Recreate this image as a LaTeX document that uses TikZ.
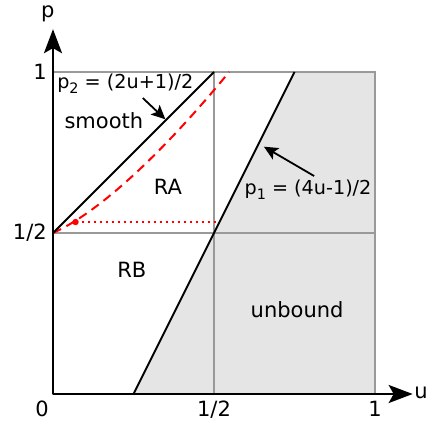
\documentclass[tikz,border=0pt]{standalone}
\usepackage{fontspec}
\setmainfont{DejaVu Sans}
\usepackage{xcolor}
\usepackage{tikz}
\usetikzlibrary{calc, arrows.meta, positioning}

\newcommand{\lowsub}[1]{\raisebox{-0.45ex}{\fontsize{7.2}{8}\selectfont #1}}

\begin{document}
\begin{tikzpicture}[x=161pt, y=161pt,
    font=\fontsize{10.5}{12}\selectfont,
    grid line/.style={draw=gray!80, line width=1pt},
    axis line/.style={line width=1.2pt, -{Stealth[length=12pt, width=9pt, inset=2.5pt]}},
    bound line/.style={line width=1pt},
    formula/.style={font=\fontsize{9.6}{11}\selectfont},
    pointer/.style={line width=0.9pt, -{Stealth[length=7pt, width=6.5pt, inset=1.5pt]}}]

    % =================================================================
    % 1. KHUNG HINH VA TOA DO CAC DIEM CHINH
    % =================================================================
    \useasboundingbox (-0.1646,-0.0839) rectangle (1.1677,1.2236);

    \coordinate (O) at (0,0);
    \coordinate (U1) at (1,0);
    \coordinate (P1) at (0,1);
    \coordinate (Q) at (1,1);
    \coordinate (Uh) at (0.5,0);
    \coordinate (Ph) at (0,0.5);
    \coordinate (M) at (0.5,0.5);

    % giao diem cua hai duong bien voi canh cua hinh vuong
    \coordinate (A1) at (0.25,0);
    \coordinate (B1) at (0.75,1);
    \coordinate (B2) at (0.5,1);

    % =================================================================
    % 2. VUNG TO XAM (unbound) VA LUOI XAM
    % =================================================================
    \fill[gray!20] (A1) -- (U1) -- (Q) -- (B1) -- cycle;

    \draw[grid line] (O) rectangle (Q);
    \draw[grid line] (Uh) -- (B2);
    \draw[grid line] (Ph) -- (1,0.5);

    % =================================================================
    % 3. DUONG CONG DO (net dut) VA DUONG CHAM
    % =================================================================
    \coordinate (R) at (0.07,0.534);
    \coordinate (Rend) at (0.517,0.534);
    \coordinate (Rtop) at (0.547,1);
    \draw[red, line width=1pt, dash pattern=on 4.5pt off 3pt]
        (Ph) .. controls (0.15,0.5675) and (0.35,0.76) .. (Rtop);
    \draw[red, line width=1pt, dotted] (R) -- (Rend);
    \fill[red] (R) circle (1.6pt);

    % =================================================================
    % 4. HAI DUONG BIEN p1, p2
    % =================================================================
    \draw[bound line] (Ph) -- (B2);
    \draw[bound line] (A1) -- (B1);

    % =================================================================
    % 5. TRUC TOA DO
    % =================================================================
    \draw[axis line] (O) -- (1.117,0);
    \draw[axis line] (O) -- (0,1.133);

    \node (lp) at (-0.016,1.18) {p};
    \node (lu) at (1.143,0.005) {u};
    \node (l0) at (-0.034,-0.047) {0};
    \node (luh) at (0.5,-0.05) {1/2};
    \node (lu1) at (1,-0.045) {1};
    \node (lp1) at (-0.04,1) {1};
    \node (lph) at (-0.072,0.5) {1/2};

    % =================================================================
    % 6. NHAN CAC VUNG VA CONG THUC
    % =================================================================
    \node (smooth) at (0.158,0.848) {smooth};
    \node (ra) at (0.357,0.643) {RA};
    \node (rb) at (0.245,0.385) {RB};
    \node (unbound) at (0.758,0.261) {unbound};

    \node[formula, anchor=west, inner sep=0pt] (f2) at (0.012,0.963) {p\lowsub{2} = (2u+1)/2};
    \node[formula] (f1) at (0.792,0.634) {p\lowsub{1} = (4u-1)/2};

    \coordinate (s2) at (0.279,0.919);
    \coordinate (t2) at (0.349,0.853);
    \coordinate (s1) at (0.811,0.677);
    \coordinate (t1) at (0.655,0.768);
    \draw[pointer] (s2) -- (t2);
    \draw[pointer] (s1) -- (t1);

\end{tikzpicture}
\end{document}
